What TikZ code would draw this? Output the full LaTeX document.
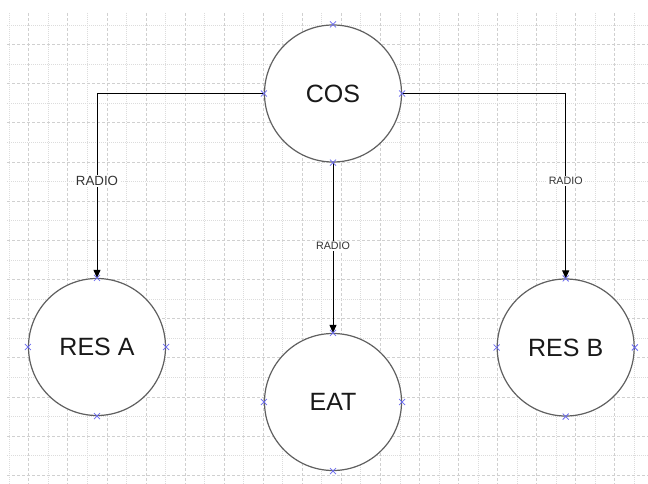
\documentclass[tikz,border=0pt]{standalone}
\usepackage{fontspec}
\setmainfont{Liberation Sans}
\usetikzlibrary{arrows.meta}
\definecolor{gridA}{HTML}{DCDCDC}
\definecolor{gridB}{HTML}{D0D0D0}
\definecolor{ringcol}{HTML}{606060}
\definecolor{markcol}{HTML}{6A6AF0}
\tikzset{
  station/.style={circle, draw=ringcol, line width=1.2pt, fill=white, minimum size=137pt, inner sep=0pt, font=\fontsize{25}{27}\selectfont, text=black!90},
  link/.style={draw=black, line width=0.9pt, -{Triangle[length=8pt,width=7pt]}},
  radiolbl/.style={fill=white, inner sep=1.5pt, text=black!80, font=\fontsize{10.7}{12}\selectfont},
  radiobig/.style={radiolbl, font=\fontsize{13.3}{15}\selectfont},
  gridminor/.style={draw=gridA, line width=0.8pt, dash pattern=on 1pt off 1pt},
  gridmajor/.style={draw=gridB, line width=0.8pt, dash pattern=on 3pt off 2pt},
  markx/.style={draw=markcol, line width=0.8pt}
}
\newcommand{\anchormark}[1]{%
  \foreach \a in {north,south,east,west}{
    \draw[markx] ([shift={(-3pt,-3pt)}]#1.\a) -- ([shift={(3pt,3pt)}]#1.\a);
    \draw[markx] ([shift={(-3pt,3pt)}]#1.\a) -- ([shift={(3pt,-3pt)}]#1.\a);
  }}
\begin{document}
\begin{tikzpicture}[x=1pt,y=-1pt]
\useasboundingbox[fill=white] (0,0) rectangle (648,484);
% grid
\foreach \k in {0,...,32}{
  \pgfmathsetmacro\xx{9.3+19.53*\k}
  \ifodd\k
    \draw[gridmajor] (\xx,13) -- (\xx,484);
  \else
    \draw[gridminor] (\xx,13) -- (\xx,484);
  \fi
}
\foreach \k in {0,...,23}{
  \pgfmathsetmacro\yy{25+19.58*\k}
  \ifodd\k
    \draw[gridmajor] (7,\yy) -- (648,\yy);
  \else
    \draw[gridminor] (7,\yy) -- (648,\yy);
  \fi
}
% stations
\node[station] (cos) at (333,93.5) {COS};
\node[station] (resa) at (97,347) {RES A};
\node[station] (eat) at (333,402) {EAT};
\node[station] (resb) at (565.7,347.5) {RES B};
% links
\draw[link] (cos.west) -| (resa.north) node[radiobig, pos=0.737] (l1) {RADIO};
\draw[link] (cos.south) -- (eat.north) node[radiolbl, pos=0.49] (l2) {RADIO};
\draw[link] (cos.east) -| (resb.north) node[radiolbl, pos=0.737] (l3) {RADIO};
% connection markers
\anchormark{cos}
\anchormark{resa}
\anchormark{eat}
\anchormark{resb}
\end{tikzpicture}
\end{document}
